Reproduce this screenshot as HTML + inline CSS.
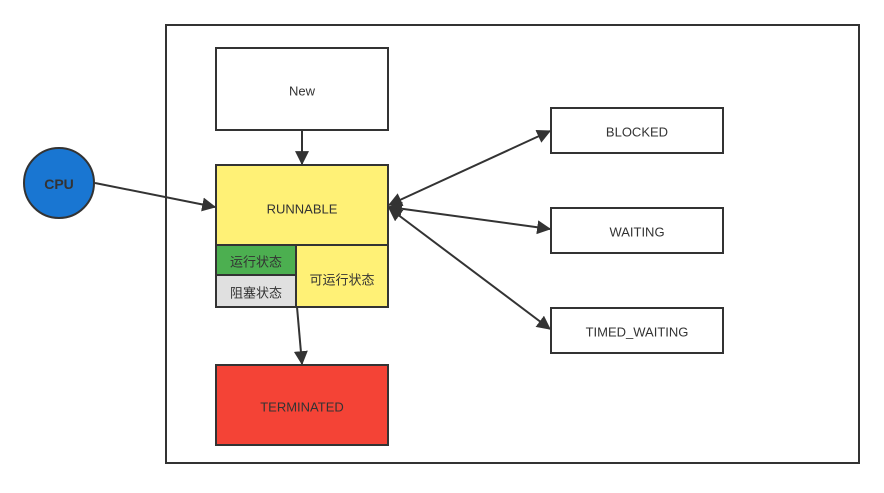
<!DOCTYPE html>
<html><head><meta charset="utf-8"><style>
body{margin:0;background:#fff;}
svg text{font-family:"Liberation Sans","Noto Sans CJK SC",sans-serif;font-size:13px;fill:#333;text-anchor:middle;dominant-baseline:central;}
</style></head><body>
<svg width="884" height="488" viewBox="0 0 884 488">
<defs>
<marker id="b" viewBox="0 0 12 12" refX="11" refY="6" markerWidth="14" markerHeight="14" orient="auto-start-reverse" markerUnits="userSpaceOnUse"><path d="M0,0L12,6L0,12z" fill="#333"/></marker>
</defs>
<g stroke="#333" stroke-width="2">
<rect x="166" y="25" width="693" height="438" fill="#fff"/>
<rect x="216" y="48" width="172" height="82" fill="#fff"/>
<rect x="216" y="165" width="172" height="80" fill="#FFF176"/>
<rect x="216" y="245" width="80" height="30" fill="#4CAF50"/>
<rect x="216" y="275" width="80" height="32" fill="#E0E0E0"/>
<rect x="296" y="245" width="92" height="62" fill="#FFF176"/>
<rect x="216" y="365" width="172" height="80" fill="#F44336"/>
<rect x="551" y="108" width="172" height="45" fill="#fff"/>
<rect x="551" y="208" width="172" height="45" fill="#fff"/>
<rect x="551" y="308" width="172" height="45" fill="#fff"/>
<circle cx="59" cy="183" r="35" fill="#1976D2"/>
<g fill="none">
<line x1="302" y1="130" x2="302" y2="164" marker-end="url(#b)"/>
<line x1="95" y1="183" x2="215" y2="207" marker-end="url(#b)"/>
<line x1="297" y1="307" x2="302" y2="364" marker-end="url(#b)"/>
<line x1="389" y1="205" x2="550" y2="131" marker-start="url(#b)" marker-end="url(#b)"/>
<line x1="389" y1="207" x2="550" y2="229" marker-start="url(#b)" marker-end="url(#b)"/>
<line x1="389" y1="208" x2="550" y2="329" marker-start="url(#b)" marker-end="url(#b)"/>
</g>
</g>
<text x="302" y="91">New</text>
<text x="302" y="209">RUNNABLE</text>
<text x="256" y="262">运行状态</text>
<text x="256" y="293">阻塞状态</text>
<text x="342" y="280">可运行状态</text>
<text x="302" y="407">TERMINATED</text>
<text x="637" y="132">BLOCKED</text>
<text x="637" y="232">WAITING</text>
<text x="637" y="332">TIMED_WAITING</text>
<text x="59" y="184" style="font-weight:bold;font-size:14px">CPU</text>
</svg>
</body></html>
